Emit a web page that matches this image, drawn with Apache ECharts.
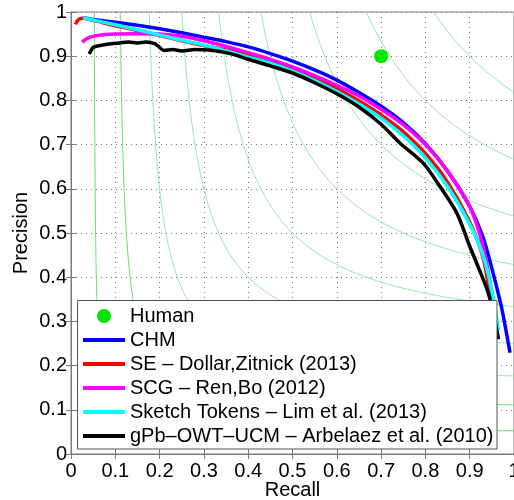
<!DOCTYPE html>
<html><head><meta charset="utf-8">
<script src="https://cdn.jsdelivr.net/npm/echarts@6/dist/echarts.min.js"></script>
<style>html,body{margin:0;padding:0;background:#fff}#c{width:514px;height:500px}</style>
</head><body><div id="c"></div>
<script>
// ---- data ----
const seriesNames = ['Human','CHM','SE \u2013 Dollar,Zitnick (2013)','SCG \u2013 Ren,Bo (2012)','Sketch Tokens \u2013 Lim et al. (2013)','gPb\u2013OWT\u2013UCM \u2013 Arbelaez et al. (2010)'];
const humanRecall = [0.70];
const humanPrecision = [0.90];

const chmRecall    = [0.027,0.05,0.10,0.15,0.20,0.25,0.30,0.35,0.40,0.45,0.50,0.55,0.60,0.65,0.70,0.75,0.80,0.85,0.90,0.93,0.95,0.97,0.98,0.991];
const chmPrecision = [0.987,0.983,0.977,0.970,0.962,0.953,0.943,0.933,0.921,0.906,0.889,0.869,0.846,0.818,0.787,0.750,0.702,0.640,0.560,0.490,0.420,0.340,0.290,0.229];

const seRecall    = [0.010,0.016,0.025,0.05,0.10,0.15,0.20,0.25,0.30,0.35,0.40,0.45,0.50,0.55,0.60,0.65,0.70,0.75,0.80,0.85,0.90,0.93,0.946];
const sePrecision = [0.972,0.982,0.986,0.981,0.969,0.958,0.947,0.935,0.924,0.914,0.902,0.889,0.872,0.851,0.827,0.799,0.767,0.729,0.680,0.615,0.525,0.445,0.355];

const scgRecall    = [0.025,0.04,0.06,0.10,0.15,0.20,0.25,0.30,0.35,0.40,0.45,0.50,0.55,0.60,0.65,0.70,0.75,0.80,0.85,0.90,0.93,0.952];
const scgPrecision = [0.932,0.942,0.947,0.950,0.951,0.950,0.945,0.935,0.922,0.908,0.893,0.876,0.856,0.834,0.810,0.780,0.745,0.700,0.640,0.560,0.470,0.350];

const stRecall    = [0.027,0.05,0.10,0.15,0.20,0.25,0.30,0.35,0.40,0.45,0.50,0.55,0.60,0.65,0.70,0.75,0.80,0.85,0.90,0.93,0.95,0.965];
const stPrecision = [0.987,0.982,0.971,0.960,0.948,0.936,0.925,0.912,0.898,0.884,0.866,0.845,0.820,0.792,0.760,0.720,0.670,0.605,0.520,0.450,0.370,0.280];

const gpbRecall    = [0.041,0.045,0.05,0.07,0.09,0.11,0.13,0.15,0.17,0.19,0.20,0.21,0.23,0.25,0.28,0.31,0.34,0.37,0.40,0.45,0.50,0.55,0.60,0.65,0.70,0.743,0.795,0.833,0.871,0.90,0.916,0.942,0.955,0.965];
const gpbPrecision = [0.905,0.912,0.920,0.925,0.928,0.930,0.932,0.930,0.932,0.928,0.920,0.913,0.915,0.912,0.915,0.914,0.910,0.903,0.893,0.878,0.862,0.840,0.815,0.785,0.746,0.703,0.658,0.605,0.545,0.470,0.431,0.364,0.310,0.260];

// iso-F guide levels (the guide lines are the contours F = 2PR/(P+R))
const isoF = [0.1,0.2,0.3,0.4,0.5,0.6,0.7,0.8,0.9];

const colors = ['#00e600','#0000ff','#ff0000','#ff00ff','#00ffff','#000000'];
const FONT = '"Liberation Sans", Arial, Helvetica, sans-serif';

function zip(a,b){return a.map((v,i)=>[v,b[i]]);}
function isoCurve(f){
  const pts=[];
  for(let k=0;k<=200;k++){const p=1-(1-f)*k/200; pts.push([f*p/(2*p-f),p]);}
  for(let k=1;k<=200;k++){const r=f+(1-f)*k/200; pts.push([r,f*r/(2*r-f)]);}
  return pts;
}

const series=[];
isoF.forEach(f=>{
  series.push({type:'line',data:isoCurve(f),showSymbol:false,symbol:'none',silent:true,z:1,
    lineStyle:{color:f<0.25?'#66e070':'#8eeaa8',width:1},legendHoverLink:false});
});
const curveData=[zip(chmRecall,chmPrecision),zip(seRecall,sePrecision),zip(scgRecall,scgPrecision),zip(stRecall,stPrecision),zip(gpbRecall,gpbPrecision)];
curveData.forEach((d,i)=>{
  series.push({name:seriesNames[i+1],type:'line',data:d,smooth:0.3,showSymbol:false,symbol:'none',z:3+i*0.1,
    lineStyle:{color:colors[i+1],width:3.5},itemStyle:{color:colors[i+1]}});
});
series.push({name:seriesNames[0],type:'scatter',data:zip(humanRecall,humanPrecision),symbol:'circle',symbolSize:14,z:4,
  itemStyle:{color:colors[0],opacity:1}});

const axisCommon={min:0,max:1,interval:0.1,
  axisLine:{show:true,lineStyle:{color:'#7a7a7a',width:1}},
  axisTick:{show:true,inside:true,length:5,lineStyle:{color:'#7a7a7a'}},
  splitLine:{show:true,lineStyle:{color:'#7a7a7a',type:[1,4],width:1}},
  nameMoveOverlap:false,
  nameTextStyle:{color:'#000',fontSize:20,fontFamily:FONT}};

const chart=echarts.init(document.getElementById('c'),null,{renderer:'canvas'});
chart.setOption({
  animation:false,
  backgroundColor:'#fff',
  grid:{left:71,right:0,top:12,bottom:46,show:true,borderColor:'#7a7a7a',borderWidth:1,containLabel:false,outerBoundsMode:'none'},
  xAxis:[Object.assign({},axisCommon,{type:'value',position:'bottom',name:'Recall',nameLocation:'middle',nameGap:26,
    axisLabel:{color:'#000',fontSize:20,fontFamily:FONT,margin:7,showMaxLabel:true,
      formatter:v=>String(Math.round(v*10)/10)}}),
    Object.assign({},axisCommon,{type:'value',position:'top',axisLabel:{show:false},splitLine:{show:false}})],
  yAxis:[Object.assign({},axisCommon,{type:'value',position:'left',name:'Precision',nameLocation:'middle',nameGap:40,
    axisLabel:{color:'#000',fontSize:20,fontFamily:FONT,margin:4,formatter:v=>String(Math.round(v*10)/10)}}),
    Object.assign({},axisCommon,{type:'value',position:'right',axisLabel:{show:false},splitLine:{show:false}})],
  legend:{orient:'vertical',left:83,top:306,padding:0,itemGap:4,itemWidth:42,itemHeight:14,z:20,
    data:seriesNames.map((n,i)=>i===0?{name:n,icon:'circle'}:{name:n,icon:'path://M0,0H42V4H0Z',itemStyle:{color:colors[i]}}),
    textStyle:{color:'#000',fontSize:20,fontFamily:FONT,lineHeight:20}},
  graphic:[{type:'rect',z:15,shape:{x:77.5,y:300.5,width:419.5,height:148.5},
    style:{fill:'#fff',stroke:'#555',lineWidth:1}}],
  series:series
});
</script></body></html>
